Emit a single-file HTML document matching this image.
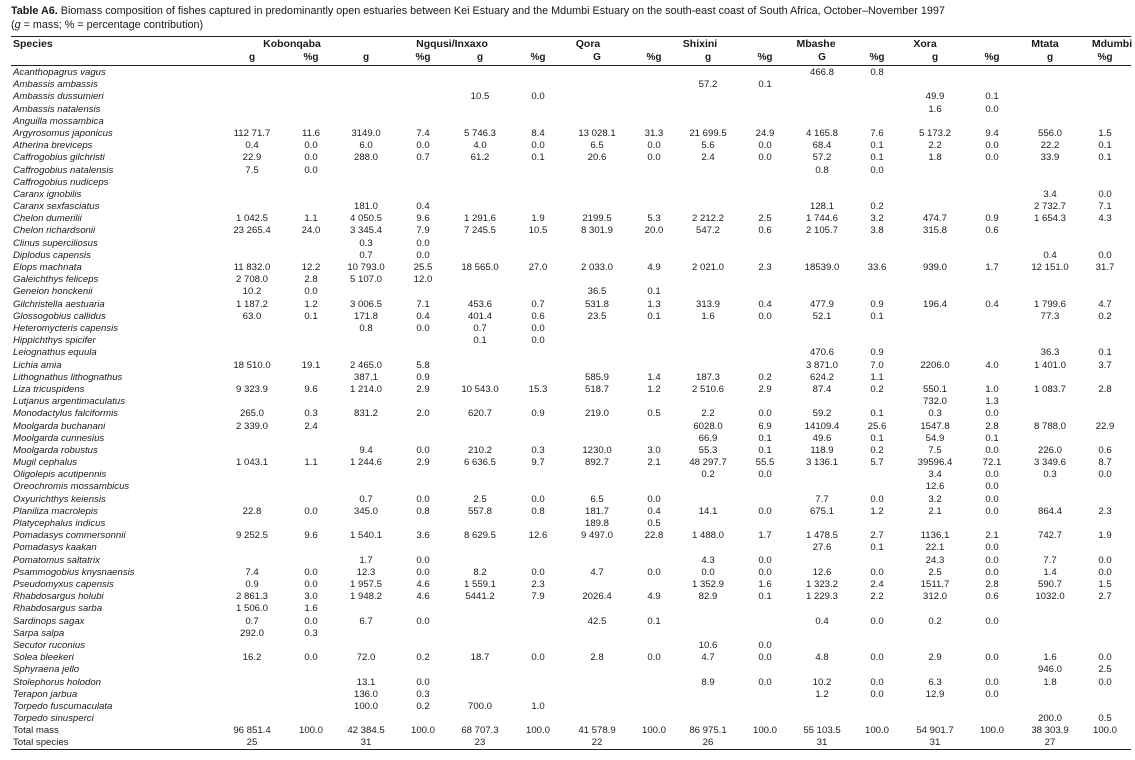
<!DOCTYPE html>
<html><head><meta charset="utf-8">
<style>
body{margin:0;background:#fff;}
#page{position:relative;width:1135px;height:760px;overflow:hidden;font-family:"Liberation Sans",sans-serif;color:#1a1a1a;}
.t{position:absolute;white-space:nowrap;}
.c{position:absolute;width:70px;text-align:center;font-size:9.6px;line-height:12px;white-space:nowrap;}
.sp{position:absolute;left:13px;font-size:9.6px;line-height:12px;font-style:italic;white-space:nowrap;}
.rule{position:absolute;left:11px;width:1120px;background:#222;}
.gh{position:absolute;font-size:10.5px;font-weight:bold;line-height:12px;white-space:nowrap;transform:translateX(-50%);}
.sh{position:absolute;font-size:10px;font-weight:bold;line-height:12px;transform:translateX(-50%);}
</style></head><body>
<div id="page">
<div class="t" style="left:11px;top:5px;font-size:10.8px;"><b>Table A6.</b> Biomass composition of fishes captured in predominantly open estuaries between Kei Estuary and the Mdumbi Estuary on the south-east coast of South Africa, October–November 1997</div>
<div class="t" style="left:11px;top:19px;font-size:10.8px;">(<i>g</i> = mass; % = percentage contribution)</div>
<div class="rule" style="top:36px;height:1.3px;"></div>
<div class="rule" style="top:65px;height:1.3px;"></div>
<div class="rule" style="top:749px;height:1.3px;"></div>
<div class="t" style="left:13px;top:38px;font-size:10.5px;font-weight:bold;line-height:12px;">Species</div>
<div id="body"></div>
</div>
<script>
const colX=[252,311,366,423,480,538,597,654,708,765,822,877,935,992,1050,1105];
const estuaries=["Kobonqaba","Ngqusi/Inxaxo","Qora","Shixini","Mbashe","Xora","Mtata","Mdumbi"];
const estuaryX=[292,452,588,700,816,925,1045,1112];
const subLabels=["g","%g","g","%g","g","%g","G","%g","g","%g","G","%g","g","%g","g","%g"];
const species=["Acanthopagrus vagus","Ambassis ambassis","Ambassis dussumieri","Ambassis natalensis","Anguilla mossambica","Argyrosomus japonicus","Atherina breviceps","Caffrogobius gilchristi","Caffrogobius natalensis","Caffrogobius nudiceps","Caranx ignobilis","Caranx sexfasciatus","Chelon dumerilii","Chelon richardsonii","Clinus superciliosus","Diplodus capensis","Elops machnata","Galeichthys feliceps","Geneion honckenii","Gilchristella aestuaria","Glossogobius callidus","Heteromycteris capensis","Hippichthys spicifer","Leiognathus equula","Lichia amia","Lithognathus lithognathus","Liza tricuspidens","Lutjanus argentimaculatus","Monodactylus falciformis","Moolgarda buchanani","Moolgarda cunnesius","Moolgarda robustus","Mugil cephalus","Oligolepis acutipennis","Oreochromis mossambicus","Oxyurichthys keiensis","Planiliza macrolepis","Platycephalus indicus","Pomadasys commersonnii","Pomadasys kaakan","Pomatomus saltatrix","Psammogobius knysnaensis","Pseudomyxus capensis","Rhabdosargus holubi","Rhabdosargus sarba","Sardinops sagax","Sarpa salpa","Secutor ruconius","Solea bleekeri","Sphyraena jello","Stolephorus holodon","Terapon jarbua","Torpedo fuscumaculata","Torpedo sinusperci","Total mass","Total species"];
// each row: list of [startColumnIndex, value, value, ...]
const values=[
[[10,"466.8","0.8"]],
[[8,"57.2","0.1"]],
[[4,"10.5","0.0"],[12,"49.9","0.1"]],
[[12,"1.6","0.0"]],
[],
[[0,"112 71.7","11.6","3149.0","7.4","5 746.3","8.4","13 028.1","31.3","21 699.5","24.9","4 165.8","7.6","5 173.2","9.4","556.0","1.5"]],
[[0,"0.4","0.0","6.0","0.0","4.0","0.0","6.5","0.0","5.6","0.0","68.4","0.1","2.2","0.0","22.2","0.1"]],
[[0,"22.9","0.0","288.0","0.7","61.2","0.1","20.6","0.0","2.4","0.0","57.2","0.1","1.8","0.0","33.9","0.1"]],
[[0,"7.5","0.0"],[10,"0.8","0.0"]],
[],
[[14,"3.4","0.0"]],
[[2,"181.0","0.4"],[10,"128.1","0.2"],[14,"2 732.7","7.1"]],
[[0,"1 042.5","1.1","4 050.5","9.6","1 291.6","1.9","2199.5","5.3","2 212.2","2.5","1 744.6","3.2","474.7","0.9","1 654.3","4.3"]],
[[0,"23 265.4","24.0","3 345.4","7.9","7 245.5","10.5","8 301.9","20.0","547.2","0.6","2 105.7","3.8","315.8","0.6"]],
[[2,"0.3","0.0"]],
[[2,"0.7","0.0"],[14,"0.4","0.0"]],
[[0,"11 832.0","12.2","10 793.0","25.5","18 565.0","27.0","2 033.0","4.9","2 021.0","2.3","18539.0","33.6","939.0","1.7","12 151.0","31.7"]],
[[0,"2 708.0","2.8","5 107.0","12.0"]],
[[0,"10.2","0.0"],[6,"36.5","0.1"]],
[[0,"1 187.2","1.2","3 006.5","7.1","453.6","0.7","531.8","1.3","313.9","0.4","477.9","0.9","196.4","0.4","1 799.6","4.7"]],
[[0,"63.0","0.1","171.8","0.4","401.4","0.6","23.5","0.1","1.6","0.0","52.1","0.1"],[14,"77.3","0.2"]],
[[2,"0.8","0.0","0.7","0.0"]],
[[4,"0.1","0.0"]],
[[10,"470.6","0.9"],[14,"36.3","0.1"]],
[[0,"18 510.0","19.1","2 465.0","5.8"],[10,"3 871.0","7.0","2206.0","4.0","1 401.0","3.7"]],
[[2,"387.1","0.9"],[6,"585.9","1.4","187.3","0.2","624.2","1.1"]],
[[0,"9 323.9","9.6","1 214.0","2.9","10 543.0","15.3","518.7","1.2","2 510.6","2.9","87.4","0.2","550.1","1.0","1 083.7","2.8"]],
[[12,"732.0","1.3"]],
[[0,"265.0","0.3","831.2","2.0","620.7","0.9","219.0","0.5","2.2","0.0","59.2","0.1","0.3","0.0"]],
[[0,"2 339.0","2.4"],[8,"6028.0","6.9","14109.4","25.6","1547.8","2.8","8 788.0","22.9"]],
[[8,"66.9","0.1","49.6","0.1","54.9","0.1"]],
[[2,"9.4","0.0","210.2","0.3","1230.0","3.0","55.3","0.1","118.9","0.2","7.5","0.0","226.0","0.6"]],
[[0,"1 043.1","1.1","1 244.6","2.9","6 636.5","9.7","892.7","2.1","48 297.7","55.5","3 136.1","5.7","39596.4","72.1","3 349.6","8.7"]],
[[8,"0.2","0.0"],[12,"3.4","0.0","0.3","0.0"]],
[[12,"12.6","0.0"]],
[[2,"0.7","0.0","2.5","0.0","6.5","0.0"],[10,"7.7","0.0","3.2","0.0"]],
[[0,"22.8","0.0","345.0","0.8","557.8","0.8","181.7","0.4","14.1","0.0","675.1","1.2","2.1","0.0","864.4","2.3"]],
[[6,"189.8","0.5"]],
[[0,"9 252.5","9.6","1 540.1","3.6","8 629.5","12.6","9 497.0","22.8","1 488.0","1.7","1 478.5","2.7","1136.1","2.1","742.7","1.9"]],
[[10,"27.6","0.1","22.1","0.0"]],
[[2,"1.7","0.0"],[8,"4.3","0.0"],[12,"24.3","0.0","7.7","0.0"]],
[[0,"7.4","0.0","12.3","0.0","8.2","0.0","4.7","0.0","0.0","0.0","12.6","0.0","2.5","0.0","1.4","0.0"]],
[[0,"0.9","0.0","1 957.5","4.6","1 559.1","2.3"],[8,"1 352.9","1.6","1 323.2","2.4","1511.7","2.8","590.7","1.5"]],
[[0,"2 861.3","3.0","1 948.2","4.6","5441.2","7.9","2026.4","4.9","82.9","0.1","1 229.3","2.2","312.0","0.6","1032.0","2.7"]],
[[0,"1 506.0","1.6"]],
[[0,"0.7","0.0","6.7","0.0"],[6,"42.5","0.1"],[10,"0.4","0.0","0.2","0.0"]],
[[0,"292.0","0.3"]],
[[8,"10.6","0.0"]],
[[0,"16.2","0.0","72.0","0.2","18.7","0.0","2.8","0.0","4.7","0.0","4.8","0.0","2.9","0.0","1.6","0.0"]],
[[14,"946.0","2.5"]],
[[2,"13.1","0.0"],[8,"8.9","0.0","10.2","0.0","6.3","0.0","1.8","0.0"]],
[[2,"136.0","0.3"],[10,"1.2","0.0","12.9","0.0"]],
[[2,"100.0","0.2","700.0","1.0"]],
[[14,"200.0","0.5"]],
[[0,"96 851.4","100.0","42 384.5","100.0","68 707.3","100.0","41 578.9","100.0","86 975.1","100.0","55 103.5","100.0","54 901.7","100.0","38 303.9","100.0"]],
[[0,"25"],[2,"31"],[4,"23"],[6,"22"],[8,"26"],[10,"31"],[12,"31"],[14,"27"]]
];
const rowY=i=>73+i*12.19;
const page=document.getElementById('body');
estuaries.forEach((n,i)=>{
  const d=document.createElement('div');d.className='gh';
  d.style.left=estuaryX[i]+'px';d.style.top='38px';d.textContent=n;
  
  
  page.appendChild(d);
});
subLabels.forEach((n,i)=>{
  const d=document.createElement('div');d.className='sh';
  d.style.left=colX[i]+'px';d.style.top='52px';d.textContent=n;
  
  
  page.appendChild(d);
});
species.forEach((s,i)=>{
  const y=rowY(i)-6;
  const d=document.createElement('div');d.className='sp';
  if(i>=54)d.style.fontStyle='normal';
  d.style.top=y+'px';d.textContent=s;
  
  
  page.appendChild(d);
  (values[i]||[]).forEach(seg=>{
    const start=seg[0];
    for(let j=1;j<seg.length;j++){
      const k=start+j-1;
      const c=document.createElement('div');c.className='c';
      c.style.left=(colX[k]-35)+'px';c.style.top=y+'px';c.textContent=seg[j];
      
      
      page.appendChild(c);
    }
  });
});
</script>
</body></html>
